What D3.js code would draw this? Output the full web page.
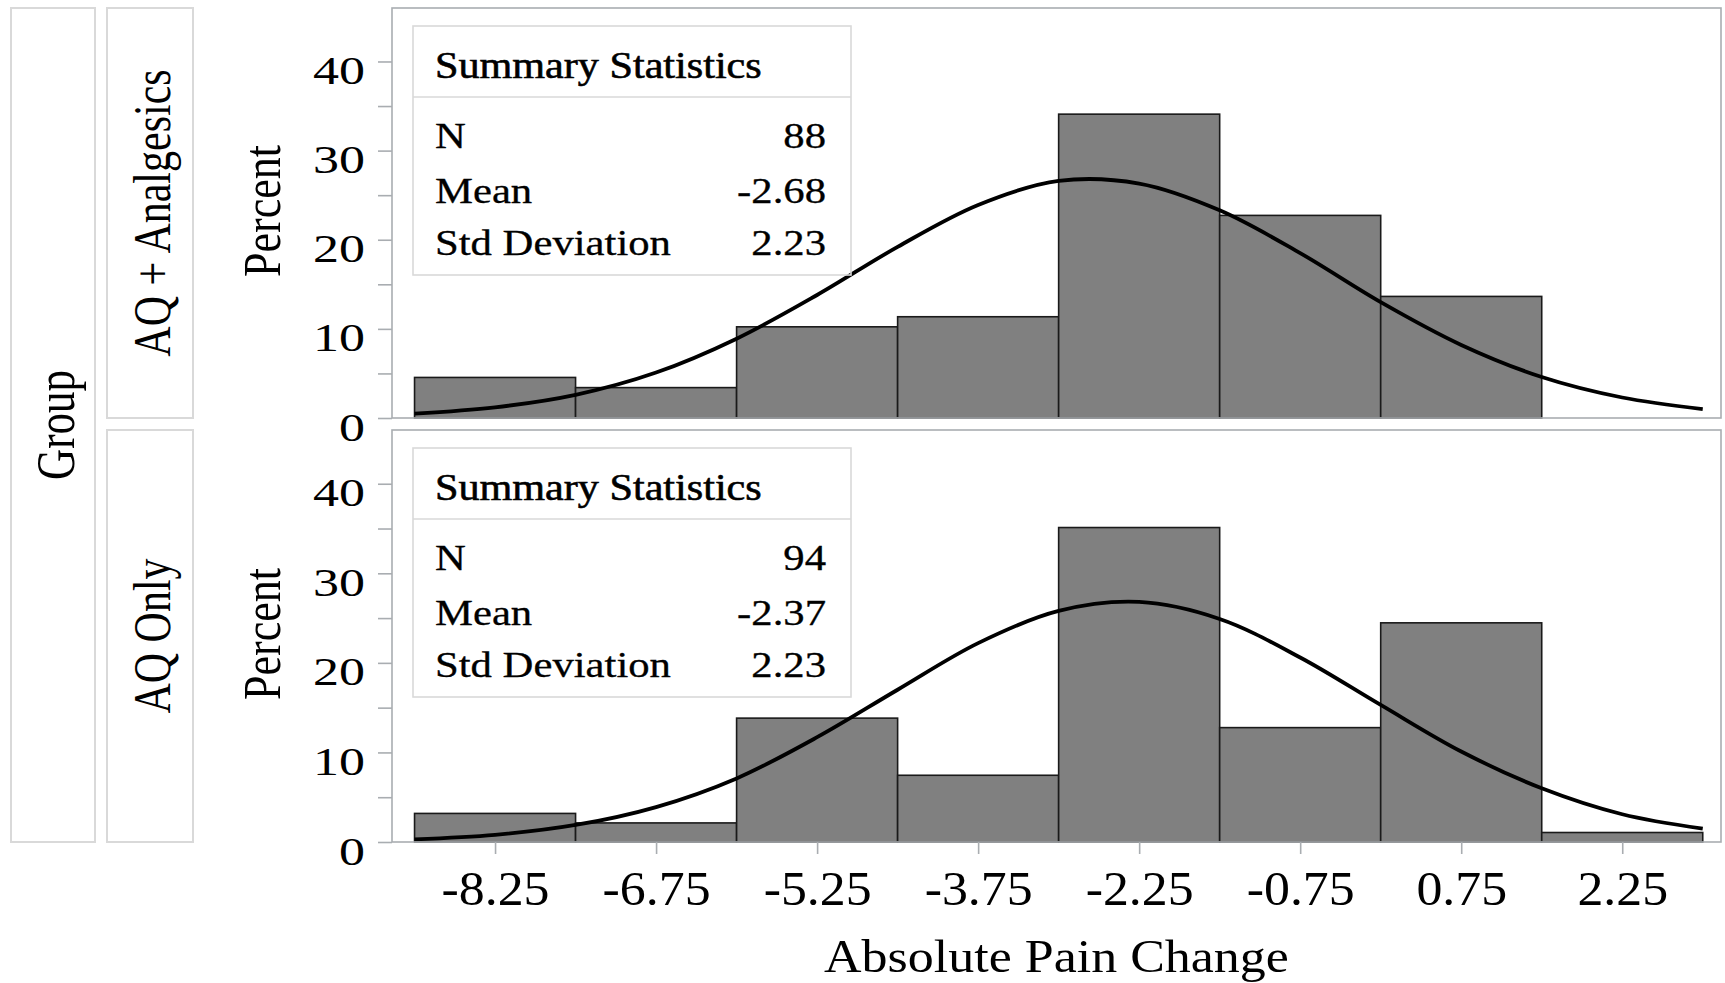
<!DOCTYPE html>
<html>
<head>
<meta charset="utf-8">
<script src="https://cdn.jsdelivr.net/npm/d3@7"></script>
<style>
  body { margin: 0; background: #fff; }
  text { font-family: "Liberation Serif", "Times New Roman", serif; fill: #000; }
</style>
</head>
<body>
<div id="chart"></div>
<script>
// bins are 1.5 wide, the x ticks sit on the bin midpoints
const binMids = [-8.25, -6.75, -5.25, -3.75, -2.25, -0.75, 0.75, 2.25];
const binWidth = 1.5;
const groups = ["AQ + Analgesics", "AQ Only"];

// percent per bin
const pctAnalgesics = [4.55, 3.41, 10.23, 11.36, 34.09, 22.73, 13.64, 0];
const pctAQOnly = [3.19, 2.13, 13.83, 7.45, 35.11, 12.77, 24.47, 1.06];

// fitted normal curve, every 0.75
const curveX = [-9, -8.25, -7.5, -6.75, -6, -5.25, -4.5, -3.75, -3, -2.25, -1.5, -0.75, 0, 0.75, 1.5, 2.25, 3];
const curveAnalgesics = [0.5, 1.2, 2.6, 5.1, 8.9, 13.8, 19.2, 23.9, 26.6, 26.3, 23.3, 18.5, 13.0, 8.2, 4.6, 2.3, 1.0];
const curveAQOnly = [0.3, 0.8, 1.9, 3.9, 7.1, 11.7, 17.0, 22.2, 25.8, 26.8, 24.9, 20.6, 15.3, 10.1, 6.0, 3.1, 1.5];

// summary statistics inset
const statLabels = ["N", "Mean", "Std Deviation"];
const statsAnalgesics = ["88", "-2.68", "2.23"];
const statsAQOnly = ["94", "-2.37", "2.23"];

const yTicks = [0, 5, 10, 15, 20, 25, 30, 35, 40];

const W = 1725, H = 983;
const plotLeft = 392, plotRight = 1721;
const rows = [[8, 418], [430, 842]];

const svg = d3.select("#chart").append("svg")
    .attr("width", W)
    .attr("height", H);

const x = d3.scaleLinear()
    .domain([-9.21, 3.17])
    .range([plotLeft, plotRight]);

// text helpers, the reference glyphs are a bit stretched
function addText(parent, str, px, py, size, sx, anchor) {
    return parent.append("text")
        .attr("transform", `translate(${px},${py}) scale(${sx},1)`)
        .attr("font-size", size)
        .attr("text-anchor", anchor || "start")
        .text(str);
}
function addVText(parent, str, px, py, size, sy) {
    return parent.append("text")
        .attr("transform", `translate(${px},${py}) rotate(-90) scale(1,${sy})`)
        .attr("font-size", size)
        .attr("text-anchor", "middle")
        .text(str);
}

HistPanel = function(_parent, row, label, pct, curve, stats, showX) {
    this.parent = _parent;
    this.row = row;
    this.label = label;
    this.pct = pct;
    this.curve = curve;
    this.stats = stats;
    this.showX = showX;
    this.initVis();
};

HistPanel.prototype.initVis = function() {
    let vis = this;
    let top = vis.row[0], bottom = vis.row[1];

    vis.g = vis.parent.append("g");

    vis.y = d3.scaleLinear()
        .domain([0, 46])
        .range([bottom, top]);

    // row header box
    vis.g.append("rect")
        .attr("x", 107).attr("y", top)
        .attr("width", 86).attr("height", bottom - top)
        .attr("fill", "none")
        .attr("stroke", "#d9d9d9")
        .attr("stroke-width", 2);
    addVText(vis.g, vis.label, 170, (top + bottom) / 2, 42, 1.26);

    // y label
    addVText(vis.g, "Percent", 280, (top + bottom) / 2 - 2, 44, 1.2);

    // bars
    let bars = binMids.map((m, i) => ({ mid: m, pct: vis.pct[i] })).filter(d => d.pct > 0);
    vis.g.selectAll("rect.bar").data(bars)
        .enter().append("rect")
        .attr("class", "bar")
        .attr("x", d => x(d.mid - binWidth / 2))
        .attr("width", d => x(d.mid + binWidth / 2) - x(d.mid - binWidth / 2))
        .attr("y", d => vis.y(d.pct))
        .attr("height", d => vis.y(0) - vis.y(d.pct))
        .attr("fill", "#808080")
        .attr("stroke", "#1a1a1a")
        .attr("stroke-width", 1.6);

    // normal curve
    let line = d3.line()
        .x(d => x(d[0]))
        .y(d => vis.y(d[1]))
        .curve(d3.curveCatmullRom);
    vis.g.append("path")
        .datum(curveX.map((v, i) => [v, vis.curve[i]]))
        .attr("d", line)
        .attr("fill", "none")
        .attr("stroke", "#000")
        .attr("stroke-width", 3.8)
        .attr("stroke-linejoin", "round");

    // panel frame
    vis.g.append("rect")
        .attr("x", plotLeft).attr("y", top)
        .attr("width", plotRight - plotLeft).attr("height", bottom - top)
        .attr("fill", "none")
        .attr("stroke", "#a9adb1")
        .attr("stroke-width", 1.6);

    // Y Axis
    vis.yAxisCall = d3.axisLeft(vis.y)
        .tickValues(yTicks)
        .tickSize(14)
        .tickFormat(d => d % 10 === 0 ? d : "");
    let ya = vis.g.append("g")
        .attr("class", "y axis")
        .attr("transform", `translate(${plotLeft},0)`)
        .call(vis.yAxisCall)
        .attr("font-size", 40);
    ya.select(".domain").remove();
    ya.selectAll(".tick line").attr("stroke", "#a9adb1").attr("stroke-width", 1.6);
    ya.selectAll(".tick text")
        .attr("x", 0).attr("dy", null)
        .attr("transform", "translate(-27,22) scale(1.3,1)");

    // X Axis (bottom row only)
    if (vis.showX) {
        vis.xAxisCall = d3.axisBottom(x)
            .tickValues(binMids)
            .tickSize(12)
            .tickFormat(d => d.toFixed(2));
        let xa = vis.g.append("g")
            .attr("class", "x axis")
            .attr("transform", `translate(0,${bottom})`)
            .call(vis.xAxisCall)
            .attr("font-size", 48);
        xa.select(".domain").remove();
        xa.selectAll(".tick line").attr("stroke", "#a9adb1").attr("stroke-width", 1.6);
        xa.selectAll(".tick text")
            .attr("y", 0).attr("dy", null)
            .attr("transform", "translate(0,63) scale(1.08,1)");
    }

    // summary statistics inset
    let bx = 413, by = top + 18;
    let inset = vis.g.append("g");
    inset.append("rect")
        .attr("x", bx).attr("y", by)
        .attr("width", 438).attr("height", 249)
        .attr("fill", "none")
        .attr("stroke", "#d9d9d9")
        .attr("stroke-width", 1.6);
    inset.append("line")
        .attr("x1", bx).attr("x2", bx + 438)
        .attr("y1", by + 71).attr("y2", by + 71)
        .attr("stroke", "#d9d9d9")
        .attr("stroke-width", 1.6);
    addText(inset, "Summary Statistics", bx + 22, by + 52, 37, 1.14)
        .attr("stroke", "#000").attr("stroke-width", 0.6);
    let rowY = [122, 177, 229];
    statLabels.forEach((s, i) => {
        addText(inset, s, bx + 22, by + rowY[i], 35, 1.22)
            .attr("stroke", "#000").attr("stroke-width", 0.3);
        addText(inset, vis.stats[i], bx + 413, by + rowY[i], 35, 1.22, "end")
            .attr("stroke", "#000").attr("stroke-width", 0.3);
    });
};

// Group box on the far left
svg.append("rect")
    .attr("x", 11).attr("y", rows[0][0])
    .attr("width", 84).attr("height", rows[1][1] - rows[0][0])
    .attr("fill", "none")
    .attr("stroke", "#d9d9d9")
    .attr("stroke-width", 2);
addVText(svg, "Group", 74, (rows[0][0] + rows[1][1]) / 2, 43, 1.28);

new HistPanel(svg, rows[0], groups[0], pctAnalgesics, curveAnalgesics, statsAnalgesics, false);
new HistPanel(svg, rows[1], groups[1], pctAQOnly, curveAQOnly, statsAQOnly, true);

// x label
addText(svg, "Absolute Pain Change", (plotLeft + plotRight) / 2, 972, 46, 1.13, "middle");
</script>
</body>
</html>
